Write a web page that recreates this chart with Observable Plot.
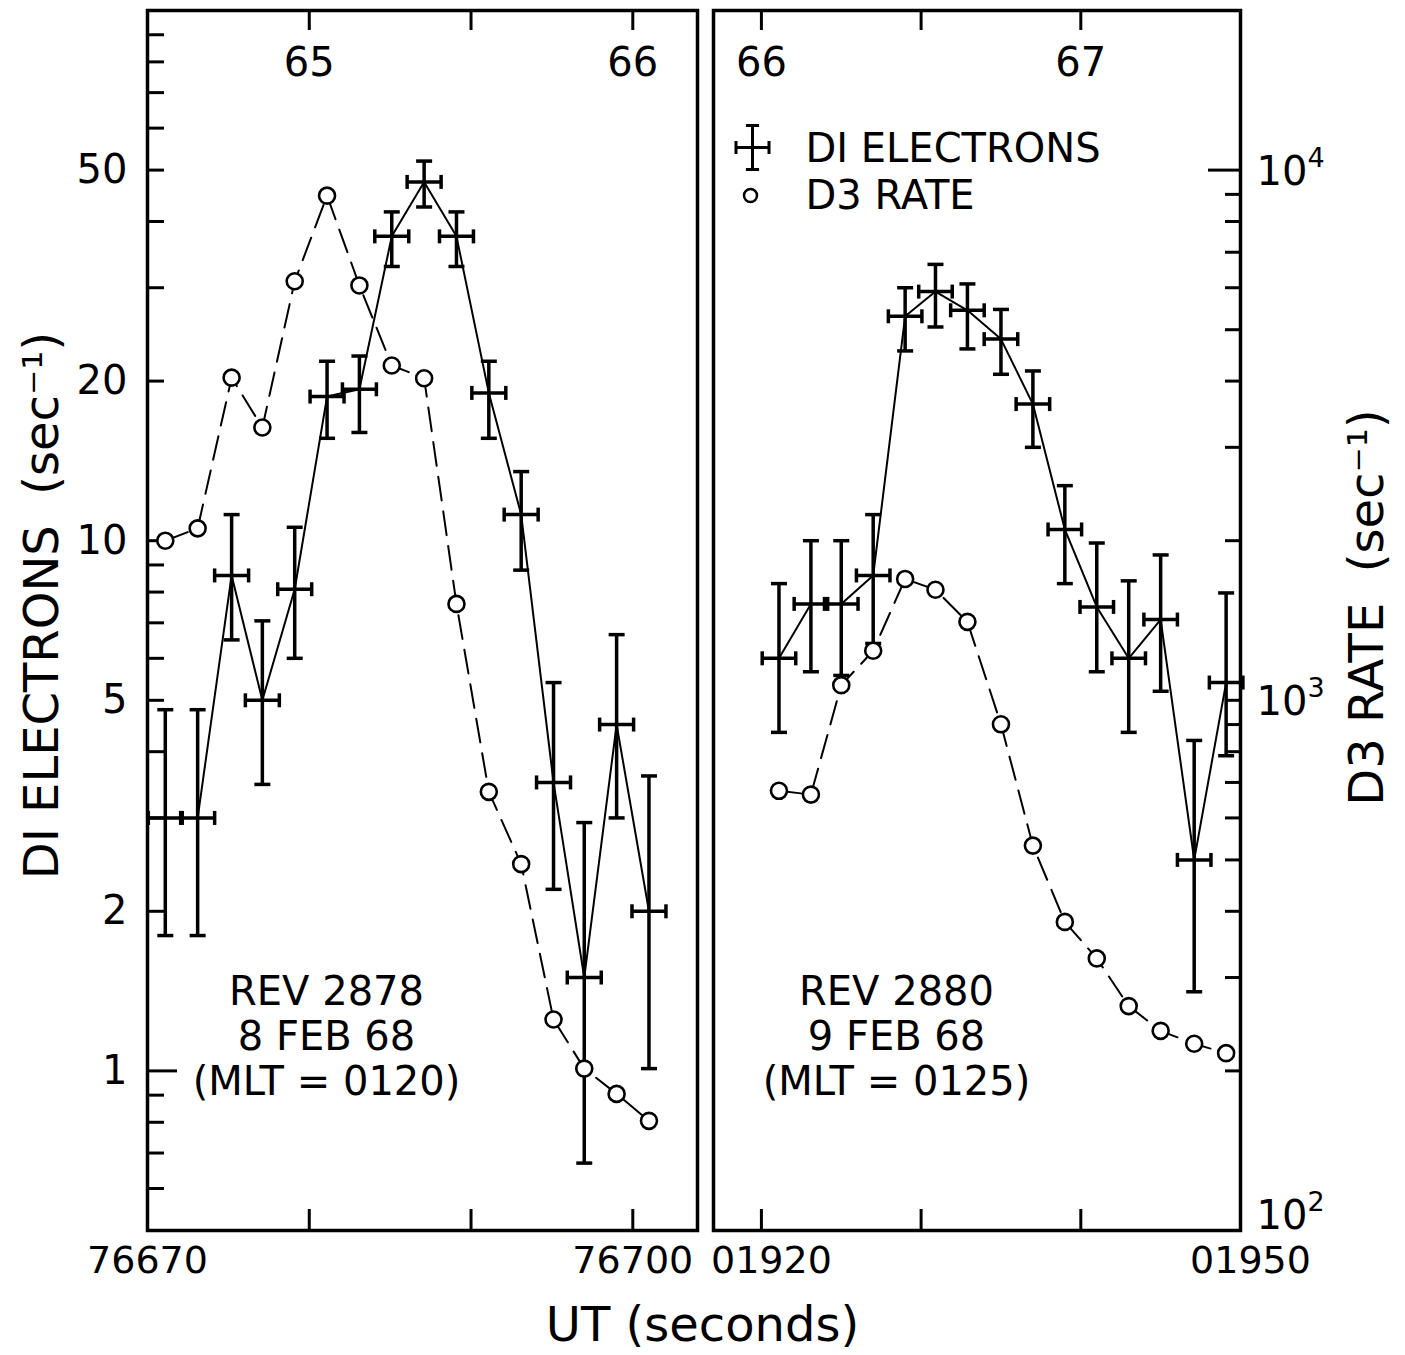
<!DOCTYPE html>
<html>
<head>
<meta charset="utf-8">
<script src="https://cdn.jsdelivr.net/npm/d3@7"></script>
<script src="https://cdn.jsdelivr.net/npm/@observablehq/plot@0.6"></script>
<style>
  html, body { margin: 0; padding: 0; background: #fff; }
  #fig { position: relative; width: 1405px; height: 1355px; background: #fff; font-family: "DejaVu Sans", sans-serif; }
  #left { position: absolute; left: 0; top: 0; }
  #right { position: absolute; left: 640px; top: 0; }
  #xtitle { position: absolute; left: 0; width: 1405px; top: 1296px; text-align: center; font-size: 48px; line-height: 56px; color: #000; }
</style>
</head>
<body>
<div id="fig">
  <div id="left"></div>
  <div id="right"></div>
  <div id="xtitle">UT (seconds)</div>
</div>
<script>
// ---------------- DATA ----------------
// REV 2878, 8 FEB 68 (UT seconds)
const rev2878Time = [76671.1, 76673.1, 76675.2, 76677.1, 76679.1, 76681.1, 76683.1, 76685.1, 76687.1, 76689.1, 76691.1, 76693.1, 76695.1, 76697.0, 76699.0, 76701.0];
const rev2878D1 = [3.0, 3.0, 8.6, 5.0, 8.1, 18.7, 19.3, 37.5, 47.5, 37.5, 19.0, 11.2, 3.5, 1.5, 4.5, 2.0];
const rev2878D1Low = [1.8, 1.8, 6.5, 3.47, 6.0, 15.6, 16.0, 32.9, 42.6, 32.9, 15.6, 8.8, 2.2, 0.67, 3.0, 1.01];
const rev2878D1High = [4.8, 4.8, 11.2, 7.06, 10.6, 21.8, 22.3, 41.7, 52.0, 41.7, 21.8, 13.5, 5.4, 2.94, 6.65, 3.6];
const rev2878D3 = [2000, 2110, 4060, 3270, 6170, 8950, 6060, 4280, 4050, 1520, 672, 491, 250, 202, 181, 161];

// REV 2880, 9 FEB 68 (UT seconds)
const rev2880Time = [1921.1, 1923.1, 1925.0, 1927.0, 1929.0, 1930.9, 1932.9, 1935.0, 1937.0, 1939.0, 1941.0, 1943.0, 1945.0, 1947.1, 1949.1];
const rev2880D1 = [6.0, 7.6, 7.6, 8.6, 26.5, 29.5, 27.2, 24.0, 18.1, 10.5, 7.5, 6.0, 7.1, 2.5, 5.4];
const rev2880D1Low = [4.35, 5.66, 5.57, 6.4, 22.8, 25.3, 23.0, 20.6, 15.0, 8.3, 5.66, 4.35, 5.2, 1.41, 3.93];
const rev2880D1High = [8.3, 10.0, 10.0, 11.2, 30.0, 33.2, 30.5, 27.3, 20.9, 12.7, 9.9, 8.4, 9.4, 4.2, 7.97];
const rev2880D3 = [675, 664, 1068, 1240, 1694, 1616, 1406, 901, 532, 382, 326, 265, 238, 225, 216];

// half accumulation interval of each DI sample (s)
const timeHalfWidth = 1.05;
// twin axes: D3 rate (sec^-1) per DI electrons (sec^-1)
const axisRatio = 200;

// axis ticks and labels
const leftMinorTicks = [0.6, 0.7, 0.8, 0.9, 2, 3, 4, 5, 6, 7, 8, 9, 10, 20, 30, 40, 50, 60, 70, 80, 90];
const leftLongTicks = [1];
const leftTickLabels = [1, 2, 5, 10, 20, 50];
const rightMinorTicks = [200, 300, 400, 500, 600, 700, 800, 900, 1000, 2000, 3000, 4000, 5000, 6000, 7000, 8000, 9000];
const rightLongTicks = [10000];
const rightTickLabels = [{v: 1000, base: "10", exp: "3"}, {v: 10000, base: "10", exp: "4"}];
const rightBottomLabel = [{v: 100, base: "10", exp: "2"}];
const leftTimeTicks = [76680, 76690, 76700];
const rightTimeTicks = [1920, 1930, 1940];
const leftTopLabels = [{v: 76680, t: "65"}, {v: 76700, t: "66"}];
const rightTopLabels = [{v: 1920, t: "66"}, {v: 1940, t: "67"}];
const leftBottomLabels = [{v: 76670, t: "76670"}, {v: 76700, t: "76700"}];
const rightBottomLabels = [{v: 1920, t: "01920"}, {v: 1950, t: "01950"}];
const leftNote = "REV 2878\n8 FEB 68\n(MLT = 0120)";
const rightNote = "REV 2880\n9 FEB 68\n(MLT = 0125)";

// ---------------- BUILD ----------------
const leftDI = rev2878Time.map((t, i) => ({t, v: rev2878D1[i], lo: rev2878D1Low[i], hi: rev2878D1High[i]}));
const leftD3 = rev2878Time.map((t, i) => ({t, v: rev2878D3[i] / axisRatio}));
const rightDI = rev2880Time.map((t, i) => ({t, v: rev2880D1[i] * axisRatio, lo: rev2880D1Low[i] * axisRatio, hi: rev2880D1High[i] * axisRatio}));
const rightD3 = rev2880Time.map((t, i) => ({t, v: rev2880D3[i]}));

const K = "#000";
const FONT = '"DejaVu Sans", sans-serif';
const H = 1355, mT = 10, mB = 125, frameH = H - mT - mB;

const hCap = {draw(ctx, size) { const r = Math.sqrt(size / Math.PI); ctx.moveTo(-r, 0); ctx.lineTo(r, 0); }};
const vCap = {draw(ctx, size) { const r = Math.sqrt(size / Math.PI); ctx.moveTo(0, -r); ctx.lineTo(0, r); }};
const legendCross = {draw(ctx, size) {
  const r = Math.sqrt(size / Math.PI), h = r * 0.75, c = r * 0.3;
  ctx.moveTo(0, -r); ctx.lineTo(0, r);
  ctx.moveTo(-c, -r); ctx.lineTo(c, -r);
  ctx.moveTo(-c, r); ctx.lineTo(c, r);
  ctx.moveTo(-h, 0); ctx.lineTo(h, 0);
  ctx.moveTo(-h, -c); ctx.lineTo(-h, c);
  ctx.moveTo(h, -c); ctx.lineTo(h, c);
}};

function dataMarks(di, d3) {
  const lw = 3.5;
  return [
    Plot.line(d3, {x: "t", y: "v", stroke: K, strokeWidth: 2, strokeDasharray: "24,11"}),
    Plot.line(di, {x: "t", y: "v", stroke: K, strokeWidth: 2}),
    Plot.ruleX(di, {x: "t", y1: "lo", y2: "hi", stroke: K, strokeWidth: lw}),
    Plot.ruleY(di, {y: "v", x1: d => d.t - timeHalfWidth, x2: d => d.t + timeHalfWidth, stroke: K, strokeWidth: lw}),
    Plot.dot(di, {x: "t", y: "lo", symbol: hCap, r: 8, stroke: K, fill: "none", strokeWidth: lw}),
    Plot.dot(di, {x: "t", y: "hi", symbol: hCap, r: 8, stroke: K, fill: "none", strokeWidth: lw}),
    Plot.dot(di, {x: d => d.t - timeHalfWidth, y: "v", symbol: vCap, r: 7, stroke: K, fill: "none", strokeWidth: lw}),
    Plot.dot(di, {x: d => d.t + timeHalfWidth, y: "v", symbol: vCap, r: 7, stroke: K, fill: "none", strokeWidth: lw}),
    Plot.dot(d3, {x: "t", y: "v", r: 8, fill: "white", stroke: K, strokeWidth: 2.6})
  ];
}

function timeMarks(ticks, topLabels, bottomLabels, bottomDx) {
  return [
    Plot.tickX(ticks, {x: d => d, insetBottom: frameH - 20, stroke: K, strokeWidth: 3}),
    Plot.tickX(ticks, {x: d => d, insetTop: frameH - 21, stroke: K, strokeWidth: 3}),
    Plot.text(topLabels, {x: "v", text: "t", frameAnchor: "top", dy: 53, lineAnchor: "middle", fontSize: 40, fill: K}),
    Plot.text(bottomLabels, {x: "v", text: "t", frameAnchor: "bottom", dx: bottomDx, dy: 30, lineAnchor: "middle", fontSize: 38, fill: K})
  ];
}

// ---------------- LEFT PANEL ----------------
const LW = 705, LmL = 147, LmR = 8, LframeW = LW - LmL - LmR;
const left = Plot.plot({
  width: LW, height: H,
  marginLeft: LmL, marginRight: LmR, marginTop: mT, marginBottom: mB,
  style: {fontFamily: FONT, background: "transparent", color: K},
  x: {domain: [76670, 76704], axis: null},
  y: {type: "log", domain: [0.5, 100], axis: null},
  marks: [
    Plot.tickY(leftMinorTicks, {y: d => d, insetRight: LframeW - 17, stroke: K, strokeWidth: 3}),
    Plot.tickY(leftLongTicks, {y: d => d, insetRight: LframeW - 30, stroke: K, strokeWidth: 3}),
    Plot.text(leftTickLabels, {y: d => d, text: d => String(d), frameAnchor: "left", textAnchor: "end", dx: -20, lineAnchor: "middle", fontSize: 40, fill: K}),
    ...timeMarks(leftTimeTicks, leftTopLabels, leftBottomLabels, 0),
    Plot.text(["DI ELECTRONS  (sec⁻¹)"], {text: d => d, frameAnchor: "left", dx: -105, dy: -15, rotate: -90, textAnchor: "middle", lineAnchor: "middle", fontSize: 48, fill: K}),
    Plot.text([leftNote], {text: d => d, frameAnchor: "top-left", dx: 179, dy: 1025, textAnchor: "middle", lineAnchor: "middle", lineHeight: 1.13, fontSize: 40, fill: K}),
    ...dataMarks(leftDI, leftD3),
    Plot.frame({stroke: K, strokeWidth: 3.5})
  ]
});
document.getElementById("left").append(left);

// ---------------- RIGHT PANEL ----------------
const RW = 765, RmL = 73, RmR = 165, RframeW = RW - RmL - RmR;
const right = Plot.plot({
  width: RW, height: H,
  marginLeft: RmL, marginRight: RmR, marginTop: mT, marginBottom: mB,
  style: {fontFamily: FONT, background: "transparent", color: K},
  x: {domain: [1917, 1950], axis: null},
  y: {type: "log", domain: [100, 20000], axis: null},
  marks: [
    Plot.tickY(rightMinorTicks, {y: d => d, insetLeft: RframeW - 15, stroke: K, strokeWidth: 3}),
    Plot.tickY(rightLongTicks, {y: d => d, insetLeft: RframeW - 32, stroke: K, strokeWidth: 3}),
    Plot.text(rightTickLabels, {y: "v", text: "base", frameAnchor: "right", textAnchor: "start", dx: 16, dy: 2, lineAnchor: "middle", fontSize: 40, fill: K}),
    Plot.text(rightTickLabels, {y: "v", text: "exp", frameAnchor: "right", textAnchor: "start", dx: 67, dy: -12, lineAnchor: "middle", fontSize: 27, fill: K}),
    Plot.text(rightBottomLabel, {y: "v", text: "base", frameAnchor: "right", textAnchor: "start", dx: 16, dy: -14, lineAnchor: "middle", fontSize: 40, fill: K}),
    Plot.text(rightBottomLabel, {y: "v", text: "exp", frameAnchor: "right", textAnchor: "start", dx: 67, dy: -28, lineAnchor: "middle", fontSize: 27, fill: K}),
    ...timeMarks(rightTimeTicks, rightTopLabels, rightBottomLabels, 10),
    Plot.text(["D3 RATE  (sec⁻¹)"], {text: d => d, frameAnchor: "right", dx: 127, dy: -13, rotate: -90, textAnchor: "middle", lineAnchor: "middle", fontSize: 48, fill: K}),
    Plot.text([rightNote], {text: d => d, frameAnchor: "top-left", dx: 183, dy: 1025, textAnchor: "middle", lineAnchor: "middle", lineHeight: 1.13, fontSize: 40, fill: K}),
    // legend
    Plot.dot([0], {frameAnchor: "top-left", dx: 39, dy: 137, symbol: legendCross, r: 22, stroke: K, fill: "none", strokeWidth: 3}),
    Plot.text(["DI ELECTRONS"], {text: d => d, frameAnchor: "top-left", dx: 92, dy: 139, textAnchor: "start", lineAnchor: "middle", fontSize: 40, fill: K}),
    Plot.dot([0], {frameAnchor: "top-left", dx: 37, dy: 185, r: 6.5, stroke: K, fill: "white", strokeWidth: 2.5}),
    Plot.text(["D3 RATE"], {text: d => d, frameAnchor: "top-left", dx: 92, dy: 186, textAnchor: "start", lineAnchor: "middle", fontSize: 40, fill: K}),
    ...dataMarks(rightDI, rightD3),
    Plot.frame({stroke: K, strokeWidth: 3.5})
  ]
});
document.getElementById("right").append(right);
</script>
</body>
</html>
